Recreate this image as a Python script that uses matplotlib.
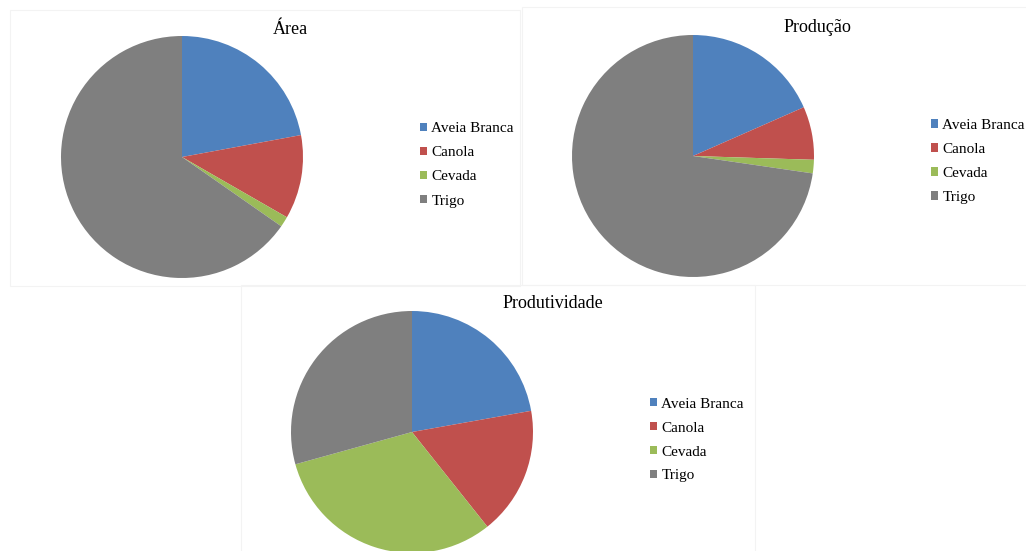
import matplotlib
matplotlib.use("Agg")
import matplotlib.pyplot as plt
from matplotlib.patches import Rectangle

categories = ["Aveia Branca", "Canola", "Cevada", "Trigo"]
area_vals = [22.1, 11.2, 1.4, 65.3]
producao_vals = [18.4, 7.1, 1.8, 72.7]
produtividade_vals = [22.2, 17.1, 31.4, 29.3]
titles = ["Área", "Produção", "Produtividade"]
colors = ["#4F81BD", "#C0504D", "#9BBB59", "#7F7F7F"]

W, H = 1026, 551
plt.rcParams['font.family'] = ['Liberation Serif', 'DejaVu Serif']
fig = plt.figure(figsize=(W / 100, H / 100), dpi=100)
fig.patch.set_facecolor("white")


def fx(x):
    return x / W


def fy(y):
    return 1 - y / H


# faint panel frames
for (x0, y0, x1, y1) in [(10, 10, 520, 286), (522, 7, 1030, 285), (241, 285, 755, 560)]:
    fig.add_artist(Rectangle((fx(x0), fy(y1)), fx(x1) - fx(x0), fy(y0) - fy(y1),
                             transform=fig.transFigure, fill=False,
                             edgecolor="#f3f3f3", linewidth=0.8))

panels = [
    # values, title, pie center, radius, title pos, legend anchor (x, center y)
    (area_vals, titles[0], (182, 157), 121, (290, 30), (420, 165)),
    (producao_vals, titles[1], (693, 156), 121, (817, 27), (931, 161.5)),
    (produtividade_vals, titles[2], (412, 432), 121, (553, 304), (650, 440)),
]

for vals, title, (cx, cy), R, (tx, ty), (lx, ly) in panels:
    ax = fig.add_axes([fx(cx - R), fy(cy + R), 2 * R / W, 2 * R / H])
    wedges, _ = ax.pie(vals, colors=colors, startangle=90, counterclock=False,
                       radius=1, wedgeprops=dict(linewidth=0))
    ax.set_xlim(-1, 1)
    ax.set_ylim(-1, 1)
    ax.set_aspect("equal")
    ax.axis("off")
    fig.text(fx(tx), fy(ty), title, ha="center", va="center", fontsize=13,
             color="black")
    fig.legend(wedges, categories, loc="center left",
               bbox_to_anchor=(fx(lx), fy(ly)), bbox_transform=fig.transFigure,
               frameon=False, fontsize=11, handlelength=0.45, handleheight=0.45,
               handletextpad=0.3, labelspacing=0.72, borderpad=0, borderaxespad=0)

fig.savefig("out.png", dpi=100, facecolor="white")
